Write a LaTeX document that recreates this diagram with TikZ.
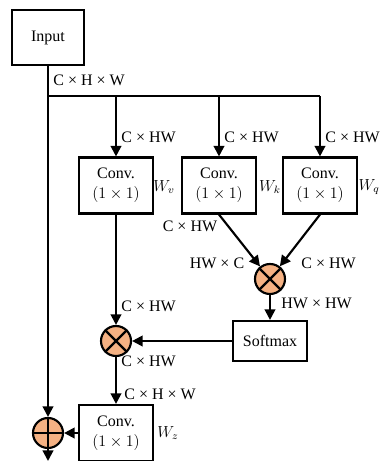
\documentclass[tikz,border=0pt]{standalone}
\usepackage{fontspec}
\setmainfont{Liberation Serif}
\usetikzlibrary{arrows.meta,positioning}
\definecolor{peach}{RGB}{244,177,131}
\tikzset{
conv_box/.style={rectangle, draw, line width=1.6pt, fill=white, minimum width=55.5pt, minimum height=42pt, align=center, inner sep=1pt, font=\fontsize{12}{15}\selectfont},
op_circle/.style={circle, draw, line width=1.6pt, fill=peach, minimum size=22.5pt, inner sep=0pt},
dim_label/.style={anchor=west, inner sep=1pt, font=\fontsize{12}{14}\selectfont},
weight_label/.style={inner sep=1pt, font=\fontsize{12}{14}\selectfont}
}

\begin{document}
\begin{tikzpicture}[x=0.75pt, y=-0.75pt, line width=1.6pt, >={Triangle[length=8pt,width=8pt]}]
    \useasboundingbox (0,0) rectangle (383,461);
    \node[conv_box, minimum width=54pt, minimum height=41pt] (input) at (48,37.5) {Input};
    \node[conv_box] (conv_v) at (116,185.5) {Conv.\\$(1\times 1)$};
    \node[conv_box] (conv_k) at (219,185.5) {Conv.\\$(1\times 1)$};
    \node[conv_box] (conv_q) at (320,185.5) {Conv.\\$(1\times 1)$};
    \node[op_circle] (mul_top) at (270,279) {};
    \node[conv_box, minimum height=30pt] (softmax) at (270,341) {Softmax};
    \node[op_circle] (mul_mid) at (116,341) {};
    \node[conv_box] (conv_z) at (116,433) {Conv.\\$(1\times 1)$};
    \node[op_circle] (add) at (48,433) {};
    \coordinate (split) at (48,96);
    \coordinate (split_end) at (320,96);
    \coordinate (out) at (48,461);
    % circle symbols
    \draw (mul_top.north west) -- (mul_top.south east) (mul_top.north east) -- (mul_top.south west);
    \draw (mul_mid.north west) -- (mul_mid.south east) (mul_mid.north east) -- (mul_mid.south west);
    \draw (add.north) -- (add.south) (add.west) -- (add.east);
    % connections
    \draw[->] (input.south) -- (add.north);
    \draw (split) -- (split_end);
    \draw[->] (conv_v.north |- split) -- (conv_v.north);
    \draw[->] (conv_k.north |- split) -- (conv_k.north);
    \draw[->] (split_end) -- (conv_q.north);
    \draw[->] (conv_k.south) -- (mul_top);
    \draw[->] (conv_q.south) -- (mul_top);
    \draw[->] (mul_top) -- (softmax);
    \draw[->] (softmax) -- (mul_mid);
    \draw[->] (conv_v) -- (mul_mid);
    \draw[->] (mul_mid) -- (conv_z);
    \draw[->] (conv_z) -- (add);
    \draw[->] (add) -- (out);
    % labels
    \node[dim_label] (lbl_in) at (51,80) {C × H × W};
    \node[dim_label] (lbl_v) at (119,137) {C × HW};
    \node[dim_label] (lbl_k) at (222,137) {C × HW};
    \node[dim_label] (lbl_q) at (323,137) {C × HW};
    \node[weight_label] (w_v) at (164,187) {$W_v$};
    \node[weight_label] (w_k) at (270,187) {$W_k$};
    \node[weight_label] (w_q) at (369,187) {$W_q$};
    \node[weight_label] (lbl_k_out) at (190,226) {C × HW};
    \node[weight_label] (lbl_hwc) at (217,263) {HW × C};
    \node[dim_label] (lbl_chw) at (299,263) {C × HW};
    \node[dim_label] (lbl_hwhw) at (279,303) {HW × HW};
    \node[dim_label] (lbl_v_out) at (119,306) {C × HW};
    \node[dim_label] (lbl_mul_out) at (119,361) {C × HW};
    \node[dim_label] (lbl_z_in) at (122,394) {C × H × W};
    \node[weight_label] (w_z) at (168,433) {$W_z$};
\end{tikzpicture}
\end{document}
